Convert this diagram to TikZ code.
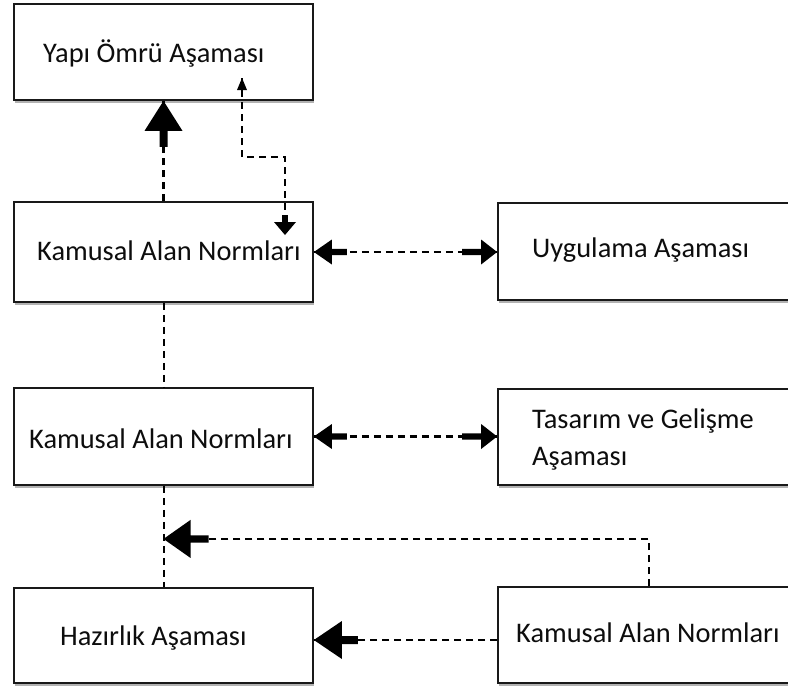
\documentclass[tikz,border=0pt]{standalone}
\usepackage{fontspec}
\setmainfont{Carlito}
\usetikzlibrary{calc,shadows}
\tikzset{
  box/.style={draw=black!90, line width=1.8pt, fill=white,
    drop shadow={shadow xshift=1pt, shadow yshift=-2.5pt, opacity=0.3, fill=black}},
  txt/.style={inner sep=0pt, anchor=base west, font=\fontsize{28.4}{37}\selectfont, text=black!95},
  conn/.style={line width=2.4pt, dash pattern=on 7pt off 5pt},
  thinconn/.style={line width=2pt, dash pattern=on 7pt off 5pt}
}
% #1 tip point, #2 direction angle, #3 head length, #4 head half width, #5 shaft length, #6 shaft half width
\newcommand\arrowhead[6]{%
  \fill[black, shift={(#1)}, rotate=#2] (0,0) -- (-#3,#4) -- (-#3,#6) -- ($(-#3,#6)+(-#5,0)$) --
    ($(-#3,-#6)+(-#5,0)$) -- (-#3,-#6) -- (-#3,-#4) -- cycle;}
\begin{document}
\begin{tikzpicture}[x=1pt,y=-1pt]
\useasboundingbox (0,0) rectangle (788,691);
% boxes
\node[box, minimum width=299pt, minimum height=96pt] (A) at (163.5,52) {};
\node[box, minimum width=299pt, minimum height=100pt] (B) at (163.5,252) {};
\node[box, minimum width=299pt, minimum height=97pt] (C) at (163.5,436.5) {};
\node[box, minimum width=299pt, minimum height=95pt] (D) at (163.5,635.5) {};
\node[box, minimum width=320pt, minimum height=97pt] (E) at (658,251.5) {};
\node[box, minimum width=320pt, minimum height=96pt] (F) at (658,437) {};
\node[box, minimum width=320pt, minimum height=96pt] (G) at (658,635) {};
% texts
\node[txt] (tA) at (43,62) {Yapı Ömrü Aşaması};
\node[txt] (tB) at (37,260) {Kamusal Alan Normları};
\node[txt] (tC) at (29,448) {Kamusal Alan Normları};
\node[txt] (tD) at (60,645) {Hazırlık Aşaması};
\node[txt] (tE) at (532,257) {Uygulama Aşaması};
\node[txt] (tF1) at (532,428) {Tasarım ve Gelişme};
\node[txt] (tF2) at (532,465) {Aşaması};
\node[txt] (tG) at (516,642) {Kamusal Alan Normları};
% B -> A
\draw[conn] (B.north) -- (A.south);
\arrowhead{A.south}{90}{30pt}{19pt}{16pt}{4pt}
% zigzag A <-> B
\coordinate (z1) at (242,78);
\coordinate (z2) at (285,235);
\draw[conn, line width=2.8pt] (z1) -- ++(0,79) -| (z2);
\arrowhead{z1}{90}{12pt}{5pt}{0pt}{1.4pt}
\arrowhead{z2}{-90}{13pt}{11pt}{7pt}{2.8pt}
% B <-> E
\coordinate (be) at (B.east -| E.west);
\draw[conn] (B.east) -- (be);
\arrowhead{B.east}{180}{18pt}{12.5pt}{15pt}{3.2pt}
\arrowhead{be}{0}{16pt}{12.5pt}{19pt}{3.2pt}
% C <-> F
\coordinate (cf) at (C.east -| F.west);
\draw[conn] (C.east) -- (cf);
\arrowhead{C.east}{180}{18pt}{12.5pt}{15pt}{3.2pt}
\arrowhead{cf}{0}{16pt}{12.5pt}{19pt}{3.2pt}
% vertical thin lines
\draw[thinconn] (B.south) -- (C.north);
\draw[thinconn] (C.south) -- (D.north);
% G -> C-D line
\coordinate (gt) at ($(G.north west)+(152,0)$);
\coordinate (m) at ($(C.south)!0.524!(D.north)$);
\draw[conn] (gt) |- (m);
\arrowhead{m}{180}{27pt}{19pt}{18pt}{3.6pt}
% G -> D
\coordinate (gw) at ($(G.west)+(0,5)$);
\coordinate (dw) at (D.east |- gw);
\draw[conn] (gw) -- (dw);
\arrowhead{dw}{180}{28pt}{19pt}{16pt}{4pt}
\end{tikzpicture}
\end{document}
